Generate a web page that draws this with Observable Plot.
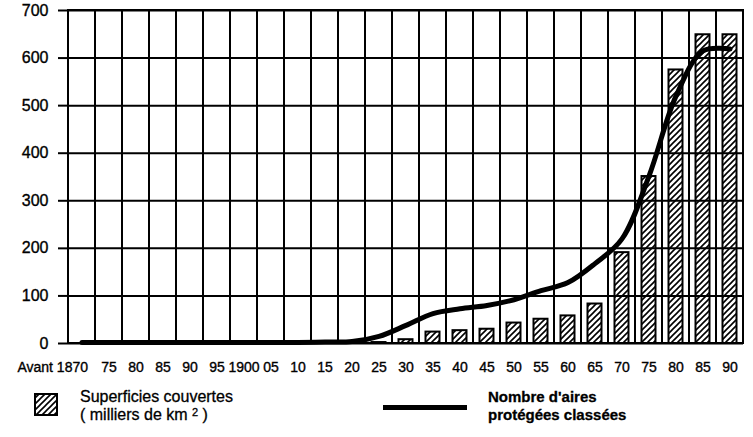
<!DOCTYPE html>
<html>
<head>
<meta charset="utf-8">
<script src="https://cdn.jsdelivr.net/npm/d3@7"></script>
<script src="https://cdn.jsdelivr.net/npm/@observablehq/plot@0.6"></script>
<style>
  body { margin: 0; background: #fff; }
  #wrap { position: relative; width: 753px; height: 437px; font-family: "Liberation Sans", Arial, sans-serif; color: #000; overflow: hidden; }
  #chart svg text { stroke: #000; stroke-width: 0.35px; }
  .lg { position: absolute; font-size: 16px; line-height: 18px; -webkit-text-stroke: 0.3px #000; }
  .lg .sup { font-size: 11px; position: relative; top: -4px; }
</style>
</head>
<body>
<div id="wrap">
  <div id="chart"></div>
  <svg class="lg" style="left:34px; top:393px;" width="26" height="24">
    <defs>
      <pattern id="hatchL" patternUnits="userSpaceOnUse" width="6" height="6">
        <path d="M-1,7 L7,-1 M-4,4 L4,-4 M2,10 L10,2" stroke="#000" stroke-width="1.6"/>
      </pattern>
    </defs>
    <rect x="1" y="1" width="22" height="21" fill="url(#hatchL)" stroke="#000" stroke-width="2"/>
  </svg>
  <div class="lg" style="left:80px; top:388px;">Superficies couvertes<br>( milliers de km <span class="sup">2</span> )</div>
  <div class="lg" style="left:383px; top:405px; width:84px; height:5px; background:#000;"></div>
  <div class="lg" style="left:488px; top:388px; font-size:15px; font-weight:bold;">Nombre d'aires<br>protégées classées</div>
</div>
<script>
// Categories (years; first = "Avant 1870")
const years = [1870,1875,1880,1885,1890,1895,1900,1905,1910,1915,1920,1925,1930,1935,1940,1945,1950,1955,1960,1965,1970,1975,1980,1985,1990];
const tickLabels = ["Avant 1870","75","80","85","90","95","1900","05","10","15","20","25","30","35","40","45","50","55","60","65","70","75","80","85","90"];
// Superficies couvertes (milliers de km²)
const superficies = [0,0,0,0,0,0,0,0,0,0,0,2,8,24,27,30,43,51,58,83,191,351,575,649,649];
// Nombre d'aires protégées classées
const aires = [2,2,2,2,2,2,2,2,2,3,4,15,38,63,73,80,92,111,128,168,220,352,520,615,619];
const yTicks = [0,100,200,300,400,500,600,700];

const rows = years.map((yr, i) => ({year: yr, label: tickLabels[i], surf: superficies[i], aires: aires[i]}));
const labelOf = new Map(rows.map(r => [r.year, r.label]));
const yMax = d3.max(yTicks);

const chart = Plot.plot({
  width: 753,
  height: 380,
  marginTop: 10,
  marginLeft: 68,
  marginRight: 10,
  marginBottom: 37,
  style: {fontSize: "16px", fontFamily: "'Liberation Sans', Arial, sans-serif", color: "#000", background: "#fff"},
  x: {type: "band", domain: years, padding: 0, label: null},
  y: {domain: [0, yMax], label: null},
  marks: [
    Plot.gridY(yTicks, {stroke: "#000", strokeOpacity: 1, strokeWidth: 2}),
    Plot.barY(years, {x: d => d, y1: 0, y2: yMax, fill: "none", stroke: "#000", strokeWidth: 2}),
    Plot.barY(rows.filter(r => r.surf > 0), {x: "year", y: "surf", fill: "url(#hatch)", stroke: "#000", strokeWidth: 2, insetLeft: 6.5, insetRight: 6.5}),
    Plot.line(rows, {x: "year", y: "aires", stroke: "#000", strokeWidth: 5, curve: "catmull-rom"}),
    Plot.axisY(yTicks, {label: null, tickSize: 10, tickPadding: 10, strokeWidth: 2, stroke: "#000", tickFormat: d => String(d)}),
    Plot.axisX(years.slice(1), {label: null, tickSize: 0, tickPadding: 19, fontSize: 14, tickFormat: d => labelOf.get(d)}),
    Plot.axisX([years[0]], {label: null, tickSize: 0, tickPadding: 19, fontSize: 14, textAnchor: "end", dx: 6, tickFormat: d => labelOf.get(d)})
  ]
});

const ns = "http://www.w3.org/2000/svg";
const defs = document.createElementNS(ns, "defs");
defs.innerHTML = '<pattern id="hatch" patternUnits="userSpaceOnUse" width="6" height="6"><path d="M-1,7 L7,-1 M-4,4 L4,-4 M2,10 L10,2" stroke="#000" stroke-width="1.6"/></pattern>';
chart.insertBefore(defs, chart.firstChild);
document.getElementById("chart").appendChild(chart);
</script>
</body>
</html>
